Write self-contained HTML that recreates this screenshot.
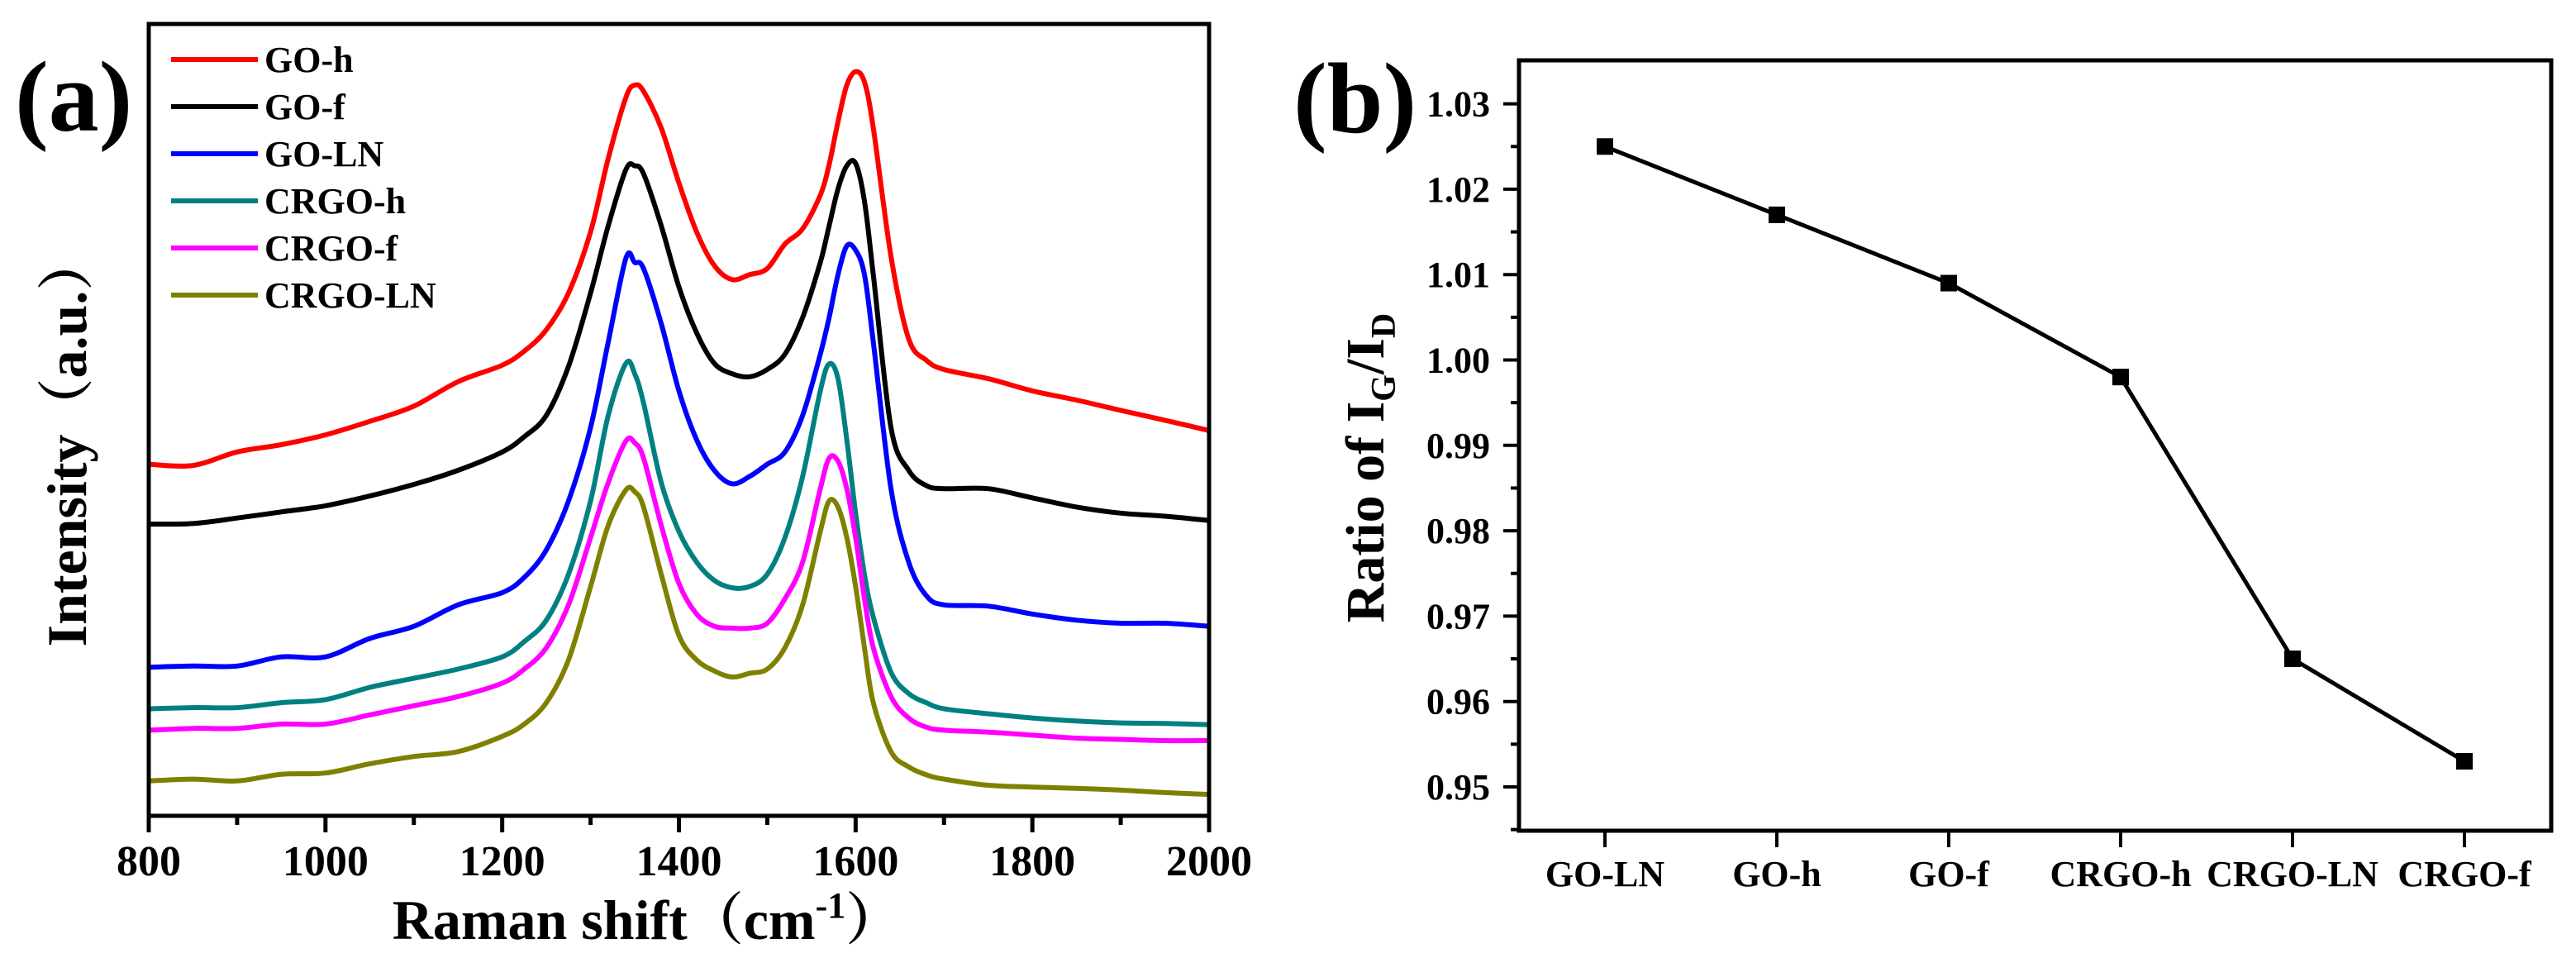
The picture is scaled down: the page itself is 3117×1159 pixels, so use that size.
<!DOCTYPE html>
<html><head><meta charset="utf-8"><style>
html,body{margin:0;padding:0;background:#fff;}
svg{display:block;font-family:"Liberation Serif","Noto Serif CJK SC",serif;font-weight:bold;}
</style></head><body>
<svg id="fig" width="3117" height="1159" viewBox="0 0 3117 1159" xmlns="http://www.w3.org/2000/svg">
<text x="18" y="158" font-size="122">(a)</text>
<text x="1565" y="160" font-size="122">(b)</text>
<g id="pa"></g>
<g id="pb"></g>
<text transform="translate(104,533) rotate(-90)" text-anchor="middle" font-size="68">Intensity（a.u.）</text>
<text x="783" y="1136" text-anchor="middle" font-size="68">Raman shift（cm<tspan dy="-26" font-size="44">-1</tspan><tspan dy="26">）</tspan></text>
<text transform="translate(1674,566) rotate(-90)" text-anchor="middle" font-size="66">Ratio of I<tspan dy="14" font-size="42">G</tspan><tspan dy="-14">/I</tspan><tspan dy="14" font-size="42">D</tspan></text>
</svg>
<script>
const xs=[800,850,900,950,1000,1050,1100,1150,1200,1225,1250,1275,1300,1320,1340,1350,1360,1380,1400,1420,1440,1460,1480,1500,1520,1540,1560,1570,1580,1590,1600,1610,1620,1640,1660,1680,1700,1750,1800,1850,1900,1950,2000];
const goH=[575,573,595,607,623,645,670,710,737,760,795,855,955,1075,1175,1195,1185,1125,1035,955,900,877,885,895,935,960,1015,1065,1135,1195,1217,1200,1125,915,780,745,730,715,695,680,663,647,630];
const goF=[477,478,487,497,507,523,542,565,595,620,655,735,855,965,1057,1063,1050,965,865,790,740,723,718,730,755,815,905,965,1025,1063,1067,1005,885,635,565,540,535,535,520,505,495,490,483];
const goLN=[243,245,245,260,260,290,310,345,365,390,435,515,635,775,912,905,895,805,695,615,565,543,555,575,595,655,755,815,885,932,925,885,775,535,415,360,345,343,330,320,315,315,310];
const crgoH=[175,177,177,185,190,210,225,240,260,285,320,395,515,655,740,723,675,545,465,415,385,373,375,395,455,555,695,739,715,615,495,395,325,235,200,185,175,167,160,155,152,151,149];
const crgoF=[140,143,143,150,150,165,180,195,217,240,275,345,455,545,613,610,585,475,380,330,310,307,307,315,355,415,535,585,580,535,455,355,275,195,160,145,140,137,132,127,125,123,123];
const crgoLN=[57,60,57,68,70,85,97,105,130,150,185,255,375,475,533,530,505,395,295,255,237,227,233,240,275,345,465,515,505,455,375,275,185,105,80,67,60,50,47,45,42,38,35];
const seriesNames=["GO-h","GO-f","GO-LN","CRGO-h","CRGO-f","CRGO-LN"];
const seriesColors=["#ff0000","#000000","#0000ff","#008080","#ff00ff","#808000"];
const seriesData=[goH,goF,goLN,crgoH,crgoF,crgoLN];
const xTicks=[800,1000,1200,1400,1600,1800,2000];
const ratioCats=["GO-LN","GO-h","GO-f","CRGO-h","CRGO-LN","CRGO-f"];
const ratioVals=[1.025,1.017,1.009,0.998,0.965,0.953];
const ratioTicks=["0.95","0.96","0.97","0.98","0.99","1.00","1.01","1.02","1.03"];

const NS="http://www.w3.org/2000/svg";
function mk(parent,tag,attrs){const e=document.createElementNS(NS,tag);for(const k in attrs)e.setAttribute(k,attrs[k]);parent.appendChild(e);return e;}

// Panel a
const pa=document.getElementById('pa');
const A={l:180,r:1463,t:29,b:987};
const ax=x=>A.l+(x-800)/1200*(A.r-A.l);
const ay=v=>A.b-v*(A.b-A.t)/1295;
function smooth(pts){let d="M"+pts[0][0].toFixed(1)+","+pts[0][1].toFixed(1);
 for(let i=0;i<pts.length-1;i++){const p0=pts[Math.max(0,i-1)],p1=pts[i],p2=pts[i+1],p3=pts[Math.min(pts.length-1,i+2)];
  const c1=[p1[0]+(p2[0]-p0[0])/6,p1[1]+(p2[1]-p0[1])/6],c2=[p2[0]-(p3[0]-p1[0])/6,p2[1]-(p3[1]-p1[1])/6];
  d+="C"+c1[0].toFixed(1)+","+c1[1].toFixed(1)+" "+c2[0].toFixed(1)+","+c2[1].toFixed(1)+" "+p2[0].toFixed(1)+","+p2[1].toFixed(1);}
 return d;}
seriesData.forEach((arr,si)=>{
 const p=mk(pa,'path',{d:smooth(arr.map((v,i)=>[ax(xs[i]),ay(v)])),fill:'none',stroke:seriesColors[si],'stroke-width':6,'stroke-linejoin':'round'});
 
 
});
const fa=mk(pa,'rect',{x:A.l,y:A.t,width:A.r-A.l,height:A.b-A.t,fill:'none',stroke:'#000','stroke-width':5});


for(let x=800;x<=2000;x+=100){
 const major=x%200===0;
 const t=mk(pa,'line',{x1:ax(x),x2:ax(x),y1:A.b,y2:A.b+(major?20:11),stroke:'#000','stroke-width':5});
 
 
}
xTicks.forEach(x=>{
 const t=mk(pa,'text',{x:ax(x),y:1059,'text-anchor':'middle','font-size':52});
 t.textContent=x;
 
 
});
seriesNames.forEach((n,i)=>{
 const y=72+i*57;
 const g=mk(pa,'g',{});
 
 
 mk(g,'line',{x1:207,x2:312,y1:y,y2:y,stroke:seriesColors[i],'stroke-width':6});
 const t=mk(g,'text',{x:320,y:y+15,'font-size':44});
 t.textContent=n;
});

// Panel b
const pb=document.getElementById('pb');
const B={l:1838,r:3087,t:73,b:1005};
const by=v=>952-(v-0.95)*10330;
const bx=i=>1942+i*208;
const fb=mk(pb,'rect',{x:B.l,y:B.t,width:B.r-B.l,height:B.b-B.t,fill:'none',stroke:'#000','stroke-width':5});


for(let k=0;k<=17;k++){
 const v=0.945+k*0.005, major=k%2===1;
 const t=mk(pb,'line',{x1:B.l-(major?19:10),x2:B.l,y1:by(v),y2:by(v),stroke:'#000','stroke-width':4});
 
 
}
ratioTicks.forEach(s=>{
 const t=mk(pb,'text',{x:1803,y:by(parseFloat(s))+15,'text-anchor':'end','font-size':44});
 t.textContent=s;
 
 
});
ratioCats.forEach((c,i)=>{
 const tk=mk(pb,'line',{x1:bx(i),x2:bx(i),y1:B.b,y2:B.b+20,stroke:'#000','stroke-width':4});
 
 
 const t=mk(pb,'text',{x:bx(i),y:1072,'text-anchor':'middle','font-size':44});
 t.textContent=c;
 
 
});
const ln=mk(pb,'polyline',{points:ratioVals.map((v,i)=>bx(i)+','+by(v)).join(' '),fill:'none',stroke:'#000','stroke-width':5});


ratioVals.forEach((v,i)=>{
 const m=mk(pb,'rect',{x:bx(i)-10,y:by(v)-10,width:20,height:20,fill:'#000'});
 
 
});
</script>
</body></html>
